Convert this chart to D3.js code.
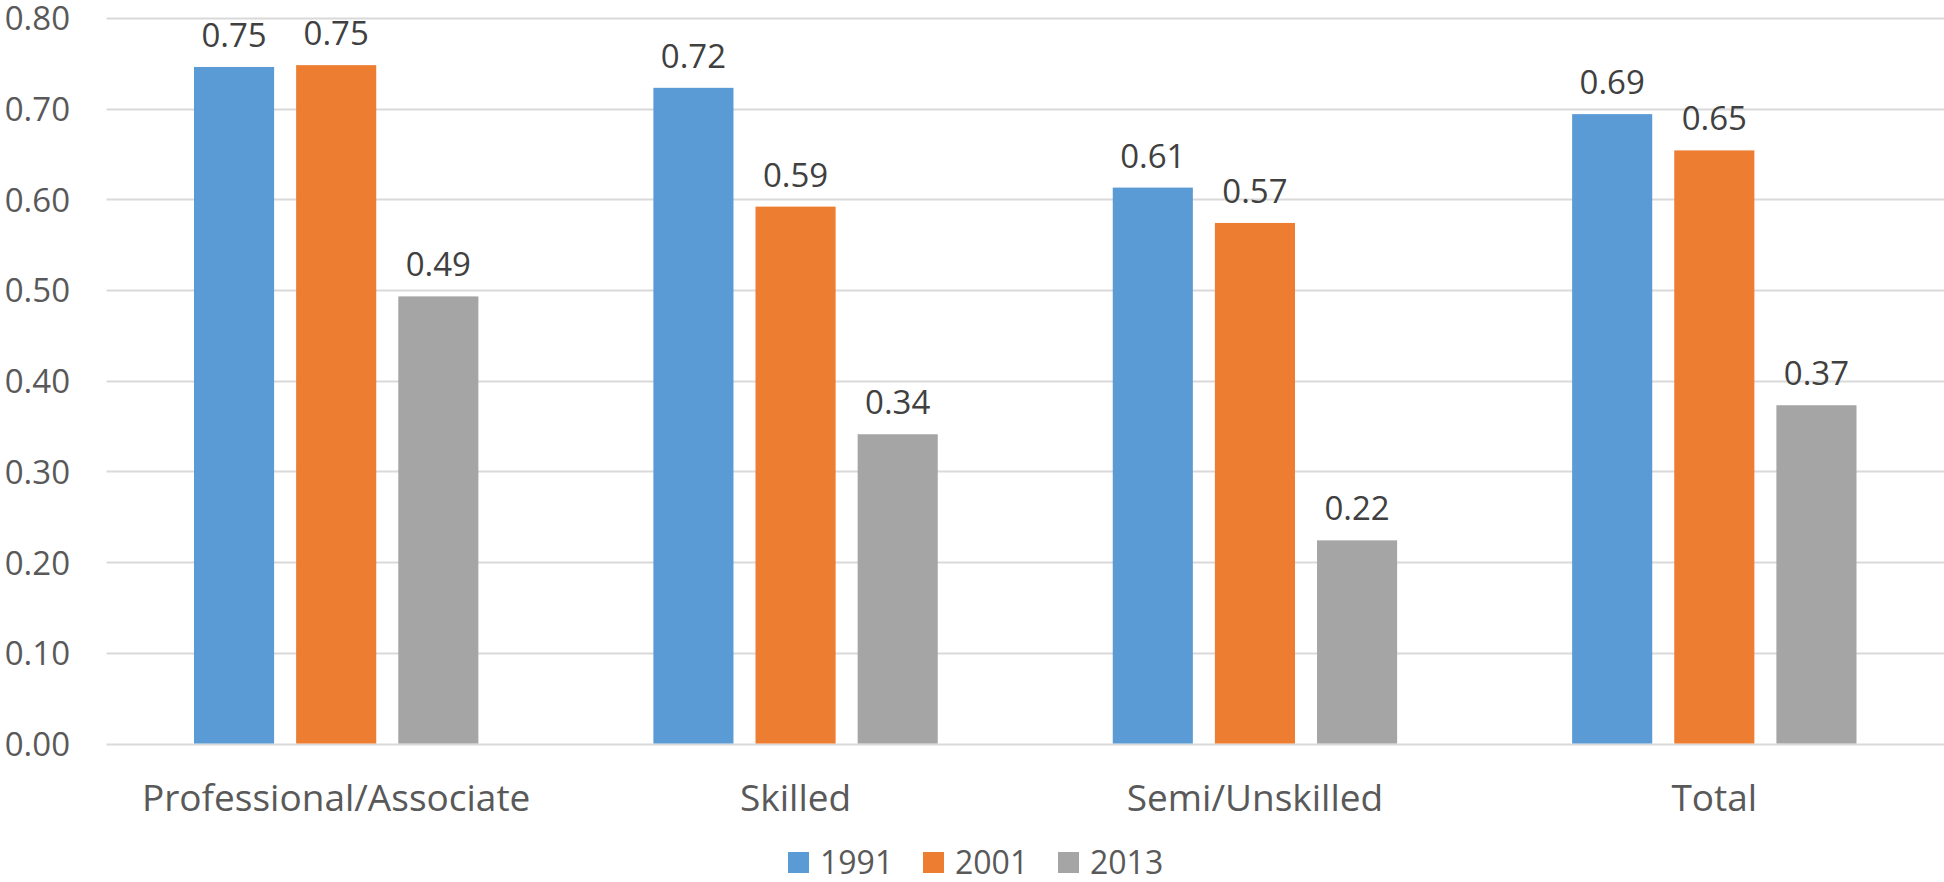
<!DOCTYPE html>
<html>
<head>
<meta charset="utf-8">
<script src="https://cdn.jsdelivr.net/npm/d3@7"></script>
<style>
  html, body { margin: 0; padding: 0; background: #fff; }
  svg { display: block; }
  text { font-family: "Open Sans", "Noto Sans", sans-serif; }
</style>
</head>
<body>
<svg id="chart" width="1944" height="882"></svg>
<script>
const categories = ["Professional/Associate", "Skilled", "Semi/Unskilled", "Total"];
const series = ["1991", "2001", "2013"];
const values1991 = [0.746, 0.723, 0.613, 0.694];
const values2001 = [0.748, 0.592, 0.574, 0.654];
const values2013 = [0.493, 0.341, 0.224, 0.373];
const yTicks = [0, 0.1, 0.2, 0.3, 0.4, 0.5, 0.6, 0.7, 0.8];
const colors = ["#5B9BD5", "#ED7D31", "#A5A5A5"];

const seriesValues = [values1991, values2001, values2013];
const data = categories.map((c, i) => ({
  category: c,
  items: series.map((s, j) => ({ series: s, value: seriesValues[j][i], color: colors[j] }))
}));

const svg = d3.select("#chart");
const plotLeft = 106.5, plotRight = 1944, plotTop = 18, plotBottom = 743.5;

const y = d3.scaleLinear().domain([0, 0.8]).range([plotBottom, plotTop]);
const x0 = d3.scaleBand().domain(categories).range([plotLeft, plotRight]).paddingInner(0).paddingOuter(0);
const groupPad = 87.5;
const x1 = d3.scaleBand().domain(series).range([groupPad, x0.bandwidth() - groupPad]).paddingInner(0.2157).paddingOuter(0);

// gridlines
svg.append("g").selectAll("line").data(yTicks).join("line")
  .attr("x1", plotLeft).attr("x2", plotRight)
  .attr("y1", d => Math.round(y(d)) + 0.5).attr("y2", d => Math.round(y(d)) + 0.5)
  .attr("stroke", "#D9D9D9").attr("stroke-width", 2);

// y axis labels
const yAxis = d3.axisLeft(y).tickValues(yTicks).tickFormat(d3.format(".2f")).tickSize(0).tickPadding(0);
const yg = svg.append("g").attr("transform", `translate(70,0)`).call(yAxis);
yg.select(".domain").remove();
yg.selectAll("text").attr("font-size", 33).attr("fill", "#595959")
  .attr("font-family", '"Open Sans", sans-serif').attr("dy", "0.36em");

// bars
const groups = svg.append("g").selectAll("g").data(data).join("g")
  .attr("transform", d => `translate(${x0(d.category)},0)`);

groups.selectAll("rect").data(d => d.items).join("rect")
  .attr("x", d => x1(d.series))
  .attr("width", x1.bandwidth())
  .attr("y", d => y(d.value))
  .attr("height", d => y(0) - y(d.value))
  .attr("fill", d => d.color);

groups.selectAll("text.lbl").data(d => d.items).join("text")
  .attr("class", "lbl")
  .attr("x", d => x1(d.series) + x1.bandwidth() / 2)
  .attr("y", d => y(d.value) - 20)
  .attr("text-anchor", "middle")
  .attr("font-size", 33)
  .attr("fill", "#404040")
  .text(d => d.value.toFixed(2));

// x axis category labels
const xAxis = d3.axisBottom(x0).tickSize(0).tickPadding(0);
const xg = svg.append("g").attr("transform", `translate(0,${plotBottom})`).call(xAxis);
xg.select(".domain").remove();
xg.selectAll("text").attr("font-size", 37).attr("fill", "#595959")
  .attr("font-family", '"Open Sans", sans-serif')
  .attr("dy", null).attr("y", 67);

// legend
const legend = svg.append("g").attr("transform", "translate(788,852)");
const li = legend.selectAll("g").data(series).join("g")
  .attr("transform", (d, i) => `translate(${i * 135},0)`);
li.append("rect").attr("width", 21).attr("height", 21).attr("fill", (d, i) => colors[i]);
li.append("text").attr("x", 32).attr("y", 22).attr("font-size", 32).attr("fill", "#595959").text(d => d);
</script>
</body>
</html>
